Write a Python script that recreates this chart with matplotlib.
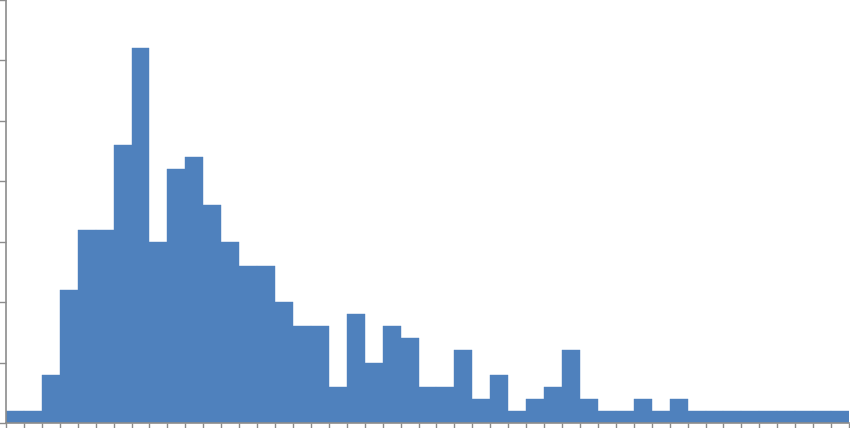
import numpy as np
import matplotlib.pyplot as plt

# counts per bin, read left to right
counts = [1, 1, 4, 11, 16, 16, 23, 31, 15, 21, 22, 18, 15, 13, 13, 10,
          8, 8, 3, 9, 5, 8, 7, 3, 3, 6, 2, 4, 1, 2, 3, 6, 2, 1, 1, 2,
          1, 2, 1, 1, 1, 1, 1, 1, 1, 1, 1]
bins = np.arange(len(counts))

fig = plt.figure(figsize=(8.5, 4.28), dpi=100)
ax = fig.add_axes([6/850, 5/428, 843/850, 423/428])

ax.bar(bins, counts, width=1.0, align='edge', color='#4F81BD',
       edgecolor='#4F81BD', linewidth=0.3)

ax.set_xlim(0, len(counts))
ax.set_ylim(0, 35)
ax.set_xticks(np.arange(len(counts) + 1))
ax.set_yticks(np.arange(0, 36, 5))
ax.set_xticklabels([])
ax.set_yticklabels([])

for s in ['top', 'right']:
    ax.spines[s].set_visible(False)
for s in ['left', 'bottom']:
    ax.spines[s].set_color('#8c8c8c')
    ax.spines[s].set_linewidth(1.2)
ax.tick_params(axis='both', direction='out', length=5, width=1,
               color='#8c8c8c')

fig.savefig('out.png', dpi=100)
